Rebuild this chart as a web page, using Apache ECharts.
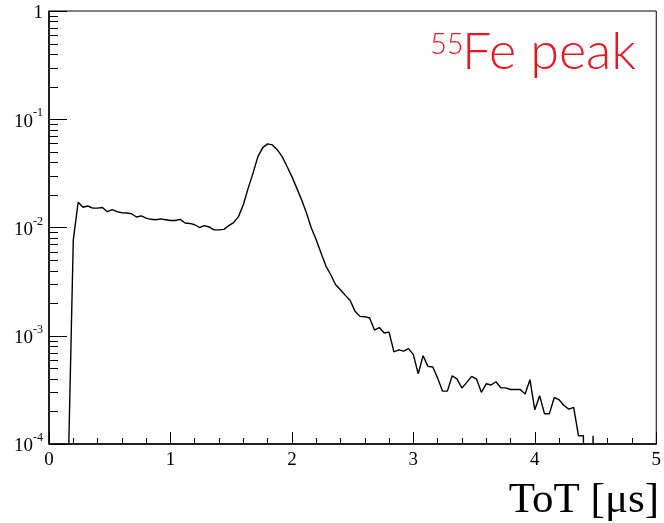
<!DOCTYPE html>
<html>
<head>
<meta charset="utf-8">
<script src="https://cdn.jsdelivr.net/npm/echarts@6/dist/echarts.min.js"></script>
<style>
  html, body { margin: 0; padding: 0; background: #fff; }
  #chart { width: 664px; height: 523px; }
</style>
</head>
<body>
<div id="chart"></div>
<script>
// Time-over-threshold spectrum: bin centres [µs] and normalised counts
const totCenters = [
  0.16, 0.20, 0.24, 0.28, 0.32, 0.36, 0.40, 0.44, 0.48, 0.52,
  0.56, 0.60, 0.64, 0.68, 0.72, 0.76, 0.80, 0.84, 0.88, 0.92,
  0.96, 1.00, 1.04, 1.08, 1.12, 1.16, 1.20, 1.24, 1.28, 1.32,
  1.36, 1.40, 1.44, 1.48, 1.52, 1.56, 1.60, 1.64, 1.68, 1.72,
  1.76, 1.80, 1.84, 1.88, 1.92, 1.96, 2.00, 2.04, 2.08, 2.12,
  2.16, 2.20, 2.24, 2.28, 2.32, 2.36, 2.40, 2.44, 2.48, 2.52,
  2.56, 2.60, 2.64, 2.68, 2.72, 2.76, 2.80, 2.84, 2.88, 2.92,
  2.96, 3.00, 3.04, 3.08, 3.12, 3.16, 3.20, 3.24, 3.28, 3.32,
  3.36, 3.40, 3.44, 3.48, 3.52, 3.56, 3.60, 3.64, 3.68, 3.72,
  3.76, 3.80, 3.84, 3.88, 3.92, 3.96, 4.00, 4.04, 4.08, 4.12,
  4.16, 4.20, 4.24, 4.28, 4.32, 4.36, 4.40, 4.44, 4.48, 4.52
];
const counts = [
  0.00007, 0.0077, 0.0171, 0.0154, 0.0158, 0.0151, 0.0151, 0.0153, 0.0140, 0.0146,
  0.0140, 0.0137, 0.0136, 0.0134, 0.0125, 0.0128, 0.0122, 0.0119, 0.0118, 0.0120,
  0.0118, 0.0116, 0.0116, 0.0119, 0.0110, 0.0109, 0.0106, 0.0100, 0.0104, 0.0101,
  0.0095, 0.0095, 0.0096, 0.0104, 0.0111, 0.0126, 0.0162, 0.0231, 0.0318, 0.0452,
  0.0547, 0.0592, 0.0579, 0.0521, 0.0452, 0.0366, 0.0295, 0.0231, 0.0180, 0.0136,
  0.0099, 0.0077, 0.0058, 0.0044, 0.00366, 0.00296, 0.00266, 0.00236, 0.00212, 0.00168,
  0.00151, 0.00150, 0.00146, 0.00113, 0.00119, 0.00106, 0.00108, 0.00071, 0.00074, 0.00072,
  0.00076, 0.00067, 0.000446, 0.000654, 0.000521, 0.000515, 0.000406, 0.000308, 0.000308, 0.000427,
  0.000398, 0.000329, 0.000371, 0.000421, 0.000398, 0.000300, 0.000360, 0.000351, 0.000376, 0.000331,
  0.000330, 0.000319, 0.000319, 0.000319, 0.000290, 0.000393, 0.000207, 0.000279, 0.000190, 0.000190,
  0.000269, 0.000256, 0.000227, 0.000210, 0.000218, 0.000119, 0.000119, 0, 0.000119, 0
];

// Axis ticks and labels
const yDecades = [1e-4, 1e-3, 1e-2, 1e-1, 1];
const yTickLabels = ['{b|10}{sup|-4}', '{b|10}{sup|-3}', '{b|10}{sup|-2}', '{b|10}{sup|-1}', '{b|1}'];
const yMinorTicks = [
  2e-4, 3e-4, 4e-4, 5e-4, 6e-4, 7e-4, 8e-4, 9e-4,
  2e-3, 3e-3, 4e-3, 5e-3, 6e-3, 7e-3, 8e-3, 9e-3,
  2e-2, 3e-2, 4e-2, 5e-2, 6e-2, 7e-2, 8e-2, 9e-2,
  2e-1, 3e-1, 4e-1, 5e-1, 6e-1, 7e-1, 8e-1, 9e-1
];
const xTickLabels = ['0', '1', '2', '3', '4', '5'];

// Empty bins sit far below the log-axis floor so the line drops out of the frame
const EMPTY_FLOOR = 1e-8;

const chart = echarts.init(document.getElementById('chart'), null, { renderer: 'canvas' });

const serif = '"Liberation Serif", "Times New Roman", serif';

chart.setOption({
  animation: false,
  backgroundColor: '#fff',
  grid: {
    left: 49, right: 4, top: 11, bottom: 79,
    show: true, borderColor: '#000', borderWidth: 1, backgroundColor: 'transparent'
  },
  xAxis: {
    type: 'value',
    min: 0, max: 5, interval: 1,
    axisLine: { show: true, onZero: false, lineStyle: { color: '#000', width: 1.5 } },
    axisTick: { show: true, inside: true, length: 12, lineStyle: { color: '#000', width: 1 } },
    minorTick: { show: true, splitNumber: 5, length: 6, lineStyle: { color: '#000', width: 1 } },
    splitLine: { show: false },
    axisLabel: {
      show: true, margin: 7, color: '#000', fontFamily: serif, fontSize: 19,
      formatter: (v) => xTickLabels[Math.round(v)] ?? ''
    }
  },
  yAxis: {
    type: 'log', logBase: 10,
    min: 1e-4, max: 1, interval: 1,
    axisLine: { show: true, lineStyle: { color: '#000', width: 1.5 } },
    axisTick: { show: true, inside: true, length: 18, lineStyle: { color: '#000', width: 1 } },
    minorTick: { show: false },
    splitLine: { show: false },
    axisLabel: {
      show: true, margin: 6, color: '#000', fontFamily: serif, fontSize: 19,
      formatter: (v) => {
        const i = yDecades.findIndex(d => Math.abs(Math.log10(d) - Math.log10(v)) < 1e-6);
        return i >= 0 ? yTickLabels[i] : '';
      },
      rich: {
        b: { fontFamily: serif, fontSize: 19, color: '#000', padding: [5, 0, 0, 0] },
        sup: { fontFamily: serif, fontSize: 12, color: '#000', verticalAlign: 'top', padding: [0, 0, 6, 0] }
      }
    }
  },
  series: [
    {
      type: 'line',
      data: totCenters.map((x, i) => [x, Math.max(counts[i], EMPTY_FLOOR)]),
      showSymbol: false,
      symbol: 'none',
      clip: true,
      lineStyle: { color: '#000', width: 1.4 },
      z: 3
    },
    {
      // minor decade ticks (2..9 × 10^n) on the log axis
      type: 'custom',
      data: yMinorTicks.map(v => [0, v]),
      clip: false,
      silent: true,
      z: 4,
      renderItem: (params, api) => {
        const p = api.coord([api.value(0), api.value(1)]);
        const y = Math.round(p[1]) + 0.5;
        return {
          type: 'line',
          shape: { x1: p[0], y1: y, x2: p[0] + 9, y2: y },
          style: { stroke: '#000', lineWidth: 1 }
        };
      }
    }
  ],
  graphic: [
    {
      type: 'text', x: 430, y: 30,
      style: { text: '55', font: '300 29px Lato, "Open Sans", sans-serif', fill: '#e8161e', align: 'left', verticalAlign: 'top' }
    },
    {
      type: 'text', x: 636, y: 26,
      style: { text: 'Fe peak', font: '300 52px Lato, "Open Sans", sans-serif', fill: '#e8161e', align: 'right', verticalAlign: 'top' }
    },
    {
      type: 'text', x: 659, y: 522,
      style: { text: 'ToT [μs]', font: '43px "Liberation Serif", "Times New Roman", serif', fill: '#000', align: 'right', verticalAlign: 'bottom' }
    }
  ]
});
</script>
</body>
</html>
